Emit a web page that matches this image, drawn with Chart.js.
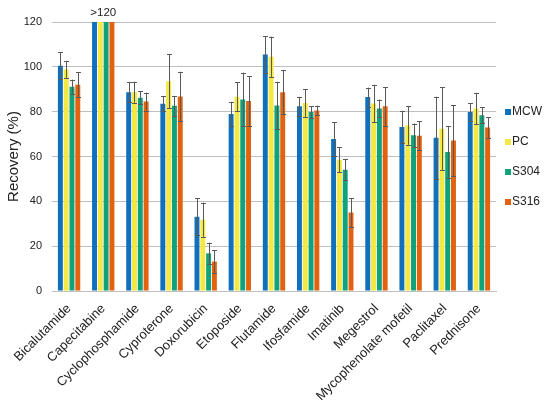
<!DOCTYPE html>
<html>
<head>
<meta charset="utf-8">
<script src="https://cdn.jsdelivr.net/npm/chart.js@4"></script>
<style>
html,body{margin:0;padding:0;background:#fff;}
#wrap{width:550px;height:403px;position:relative;}
</style>
</head>
<body>
<div id="wrap"><canvas id="c" width="550" height="403"></canvas></div>
<script>
const categories = ["Bicalutamide","Capecitabine","Cyclophosphamide","Cyproterone","Doxorubicin","Etoposide","Flutamide","Ifosfamide","Imatinib","Megestrol","Mycophenolate mofetil","Paclitaxel","Prednisone"];
const seriesNames = ["MCW","PC","S304","S316"];
const mcw  = [100.5, 120, 88.7, 83.5, 33.1, 79.0, 105.5, 82.4, 67.8, 86.5, 73.2, 68.4, 79.9];
const pc   = [98.8, 120, 88.7, 93.6, 31.8, 86.6, 104.5, 83.9, 58.6, 83.6, 73.8, 72.4, 81.4];
const s304 = [91.1, 120, 86.2, 82.6, 16.8, 85.4, 82.7, 79.8, 54.1, 81.4, 69.5, 62.0, 78.4];
const s316 = [92.0, 120, 84.5, 86.8, 13.1, 84.8, 88.7, 80.5, 35.0, 82.4, 69.3, 67.1, 72.9];
const mcwErr  = [6.0, null, 4.5, 3.4, 8.2, 5.4, 8.2, 4.2, 7.6, 4.2, 7.2, 18.3, 3.9];
const pcErr   = [3.8, null, 4.7, 12.0, 7.6, 6.5, 9.0, 6.2, 5.5, 8.4, 8.6, 18.4, 7.0];
const s304Err = [3.2, null, 3.0, 4.4, 4.8, 12.0, 10.6, 2.7, 4.6, 4.0, 5.2, 11.5, 3.6];
const s316Err = [5.5, null, 4.0, 11.0, 5.0, 11.0, 9.8, 2.2, 6.5, 8.6, 6.5, 15.9, 4.6];
const yTicks = [0, 20, 40, 60, 80, 100, 120];
const overLabel = ">120";
const overIndex = 1;

const colors = ["#1070BC", "#F4E842", "#10A27A", "#E2620F"];
const values = [mcw, pc, s304, s316];
const errors = [mcwErr, pcErr, s304Err, s316Err];
const FONT = '"Liberation Sans", Arial, sans-serif';

// small square legend markers (6x6 fill inside a 12px wide transparent canvas)
function marker(color) {
  const c = document.createElement('canvas');
  c.width = 12; c.height = 6;
  const g = c.getContext('2d');
  g.fillStyle = color;
  g.fillRect(5, 0, 6, 6);
  return c;
}
const markers = colors.map(marker);

const errorBars = {
  id: 'errorBars',
  afterUpdate(chart) {
    const lg = chart.legend, ca = chart.chartArea;
    if (lg) {
      const w = lg.right - lg.left;
      lg.left = ca.right - 8; lg.right = lg.left + w;
      lg.top = ca.top; lg.bottom = ca.bottom;
    }
  },
  afterDatasetsDraw(chart) {
    const ctx = chart.ctx;
    const y = chart.scales.y;
    ctx.save();
    ctx.strokeStyle = '#595959';
    ctx.lineWidth = 1;
    chart.data.datasets.forEach((ds, di) => {
      const meta = chart.getDatasetMeta(di);
      meta.data.forEach((bar, i) => {
        const e = ds.errors[i];
        if (e == null) return;
        const v = ds.data[i];
        const x = Math.round(bar.x) + 0.5;
        const yt = y.getPixelForValue(v + e);
        const yb = y.getPixelForValue(v - e);
        const cap = 2.5;
        ctx.beginPath();
        ctx.moveTo(x, yt); ctx.lineTo(x, yb);
        ctx.moveTo(x - cap, Math.round(yt) + 0.5); ctx.lineTo(x + cap, Math.round(yt) + 0.5);
        ctx.moveTo(x - cap, Math.round(yb) + 0.5); ctx.lineTo(x + cap, Math.round(yb) + 0.5);
        ctx.stroke();
      });
    });
    const xs = chart.scales.x;
    ctx.fillStyle = '#222';
    ctx.font = '11.5px ' + FONT;
    ctx.textAlign = 'center';
    ctx.textBaseline = 'bottom';
    ctx.fillText(overLabel, xs.getPixelForValue(overIndex), y.getPixelForValue(120) - 3);
    ctx.restore();
  }
};

new Chart(document.getElementById('c'), {
  type: 'bar',
  data: {
    labels: categories,
    datasets: seriesNames.map((n, i) => ({
      label: n,
      data: values[i],
      errors: errors[i],
      backgroundColor: colors[i],
      borderWidth: 0,
      barPercentage: 0.85,
      categoryPercentage: 0.68
    }))
  },
  options: {
    responsive: false,
    animation: false,
    devicePixelRatio: 1,
    layout: { padding: { top: 22, left: 0, right: 0, bottom: 0 } },
    plugins: {
      legend: {
        position: 'right',
        align: 'center',
        maxWidth: 54,
        labels: {
          usePointStyle: true, pointStyleWidth: 0.001,
          boxWidth: 6, boxHeight: 6, padding: 18,
          color: '#222',
          font: { size: 12, family: FONT },
          generateLabels(chart) {
            const items = Chart.defaults.plugins.legend.labels.generateLabels(chart);
            items.forEach((it, i) => { it.pointStyle = markers[i]; });
            return items;
          }
        }
      },
      tooltip: { enabled: false }
    },
    scales: {
      x: {
        grid: { display: false, drawTicks: false },
        border: { display: true, color: '#BFBFBF' },
        ticks: {
          maxRotation: 45, minRotation: 45, autoSkip: false, padding: 10,
          color: '#222',
          font: { size: 13, family: FONT }
        },
        afterFit(s) { s.height = 112; }
      },
      y: {
        min: 0, max: 120,
        afterBuildTicks(s) { s.ticks = yTicks.map(v => ({ value: v })); },
        grid: { color: '#BFBFBF', drawTicks: false },
        border: { display: false },
        ticks: {
          padding: 10, color: '#222',
          font: { size: 11, family: FONT }
        },
        title: {
          display: true, text: 'Recovery (%)', color: '#222', padding: { top: 5, bottom: 0 },
          font: { size: 15, family: FONT }
        },
        afterFit(s) { s.width = 52; }
      }
    }
  },
  plugins: [errorBars]
});
</script>
</body>
</html>
